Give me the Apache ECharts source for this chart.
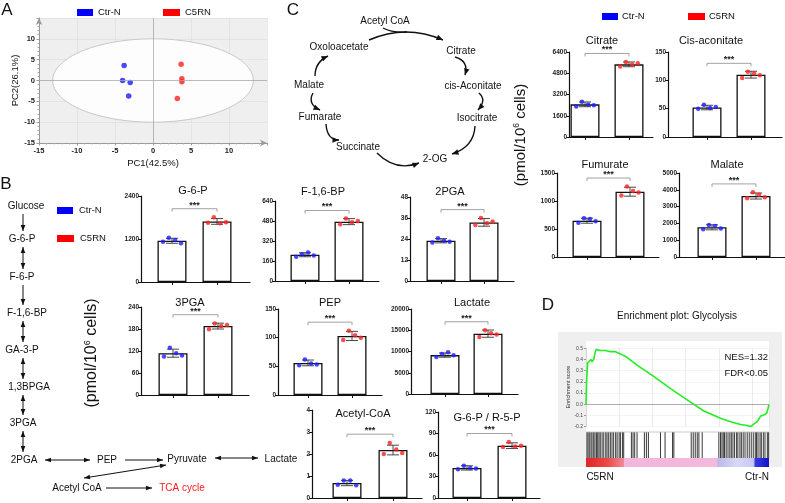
<!DOCTYPE html>
<html><head><meta charset="utf-8">
<script src="https://cdn.jsdelivr.net/npm/echarts@6/dist/echarts.min.js"></script>
<style>html,body{margin:0;padding:0;background:#fff}#c{width:785px;height:503px}</style>
</head><body><div id="c"></div>
<script>
// ================= DATA =================
const groups = ['Ctr-N', 'C5RN'];
// Panel A: PCA scores
const pcaCtrX = [-3.8, -4.0, -3.0, -3.2];
const pcaCtrY = [3.6, 0.0, -0.5, -3.7];
const pcaC5X = [3.7, 3.8, 3.8, 3.2];
const pcaC5Y = [3.9, 0.4, -0.3, -4.3];
const pcaEllipse = [13.2, 10];          // radii of confidence ellipse (PC1, PC2 units)
const pcaXLabel = 'PC1(42.5%)';
const pcaYLabel = 'PC2(26.1%)';

// Panels B & C: metabolite bar charts
const metNames   = ['G-6-P', 'F-1,6-BP', '2PGA', '3PGA', 'PEP', 'Lactate', 'Acetyl-CoA', 'G-6-P / R-5-P',
                    'Citrate', 'Cis-aconitate', 'Fumurate', 'Malate'];
const metAxisMax = [2400, 640, 48, 240, 150, 20000, 4, 120, 6400, 150, 1500, 5000];
const metAxisStep= [1200, 160, 12, 60, 50, 5000, 1, 30, 1600, 50, 500, 1000];
const ctrMean = [1150, 210, 23, 114, 56, 9150, 0.68, 42, 2460, 52, 648, 1768];
const ctrSD   = [70, 16, 1.2, 11, 5, 500, 0.12, 3, 180, 4, 45, 150];
const c5Mean  = [1690, 475, 33.5, 188, 103, 14200, 2.18, 73, 5470, 110, 1166, 3630];
const c5SD    = [80, 24, 2.2, 8, 8, 850, 0.22, 4, 180, 6, 80, 180];
const ctrDots = [[1120,1236,1172,1080],[195,215,228,205],[22,24.5,23,22.5],[105,129,114,108],
                 [52,62,55,53],[8700,9400,9800,9100],[0.6,0.8,0.8,0.58],[40,45,42,41],
                 [2300,2650,2450,2400],[50,57,51,53],[610,690,680,640],[1650,1900,1850,1700]];
const c5Dots  = [[1655,1805,1638,1664],[455,500,470,480],[32,36,33,34],[179,195,188,191],
                 [96,112,104,100],[13400,15000,14300,14000],[2.0,2.5,2.2,2.05],[71,78,72,73],
                 [5300,5650,5450,5550],[104,115,112,109],[1100,1260,1180,1150],[3500,3850,3700,3550]];

// Panel D: GSEA running enrichment score and hit ranks (percent of ranked list)
const esRank  = [0,0.36,0.91,1.64,2.74,3.28,4.2,5.1,5.66,7.85,10.6,13.3,16.1,18.8,22.4,27.9,37.0,46.2,55.3,64.4,
                 73.5,79.0,84.5,88.1,90.0,91.8,93.6,95.4,97.3,98.7,99.5,100];
const esScore = [0,0.22,0.37,0.38,0.40,0.38,0.40,0.47,0.49,0.48,0.48,0.47,0.47,0.45,0.42,0.35,0.25,0.14,0.04,-0.06,
                 -0.125,-0.155,-0.18,-0.19,-0.20,-0.175,-0.155,-0.105,-0.095,-0.08,-0.035,0.0];
const hitRank = [0.5,1.1,1.8,2.7,3.3,4.2,4.9,5.7,6.4,7.1,7.8,8.8,9.7,10.8,11.5,12.4,13.3,14.2,15.1,16.2,17.0,18.1,18.8,19.9,20.6,
                 24.8,25.7,26.6,27.9,31.9,33.0,34.1,40.7,43.2,47.3,48.0,57.5,58.6,59.7,60.8,61.7,63.5,
                 72.6,73.5,74.3,75.0,75.7,76.6,77.6,78.6,79.4,80.3,81.2,82.3,83.0,84.1,84.9,85.9,86.9,88.1,89.2,
                 90.3,91.4,92.5,93.2,94.0,95.1,95.8,96.9,97.8,99.1,99.8];
const gseaStats = ['NES=1.32', 'FDR<0.05'];

// ================= LAYOUT (pixels) =================
// [yAxisX, center1, center2, axisRightEnd, top, bottom]
const metLayout = [
  [141,172,217,250,196,282],[275,305,349,379,201,281],[410,441,484,514,197,281],
  [141,173,218,249,307,395],[278,308,352,382,309,395],[411,445,488,518,309,394],
  [312,347,393,422,410,498],[438,467,512,540,412,498],
  [569,585,629,653,52,137],[668,707,751,782,52,137],
  [557,587,630,659,173,257],[679,712,756,785,173,257]];
const metTitlePos = [[193,191],[323,192],[450,192],[190,303],[330,303],[472,303],[363,414],[487,418],
                     [602,41],[711,41],[605,165],[727,165]];

// ================= BUILD =================
const FONT = 'Liberation Sans, Arial, sans-serif';
const BLUE = '#1a1aff', RED = '#ff2020', INK = '#111';
const chart = echarts.init(document.getElementById('c'));
const grids = [], xAxes = [], yAxes = [], series = [], gfx = [];

function T(x, y, text, size, o) {
  o = o || {};
  return {type:'text', x:x, y:y, rotation:o.rot || 0, z: 10,
    style:Object.assign({text:text, fontSize:size, fontFamily:FONT, fill:o.color || INK,
      fontWeight:o.weight || 'normal',
      align:o.align || 'center', textAlign:o.align || 'center',
      verticalAlign:'middle', textVerticalAlign:'middle'}, o.style || {})};
}
function head(x2, y2, dx, dy, L, W) {
  const d = Math.hypot(dx, dy) || 1, ux = dx / d, uy = dy / d;
  const bx = x2 - ux * L, by = y2 - uy * L;
  return {type:'polygon', z:10, shape:{points:[[x2,y2],[bx - uy*W, by + ux*W],[bx + uy*W, by - ux*W]]},
          style:{fill:'#111'}};
}
function arrow(p, h1, h2, lw, L, W) {
  L = L || 6; W = W || 2.3; lw = lw || 1;
  const els = [];
  if (p.length === 4) {
    els.push({type:'line', z:10, shape:{x1:p[0],y1:p[1],x2:p[2],y2:p[3]}, style:{stroke:'#111', lineWidth:lw}});
    if (h2) els.push(head(p[2],p[3],p[2]-p[0],p[3]-p[1],L,W));
    if (h1) els.push(head(p[0],p[1],p[0]-p[2],p[1]-p[3],L,W));
  } else {
    els.push({type:'bezierCurve', z:10, shape:{x1:p[0],y1:p[1],cpx1:p[2],cpy1:p[3],x2:p[4],y2:p[5]},
              style:{stroke:'#111', lineWidth:lw, fill:null}});
    if (h2) els.push(head(p[4],p[5],p[4]-p[2],p[5]-p[3],L,W));
    if (h1) els.push(head(p[0],p[1],p[0]-p[2],p[1]-p[3],L,W));
  }
  return els;
}
function legend(x1, y1, x2, y2, textOff) {
  return [
    {type:'rect', z:10, shape:{x:x1, y:y1-3.5, width:16, height:7}, style:{fill:'#0000ff'}},
    T(x1 + textOff, y1, groups[0], 9.5, {align:'left'}),
    {type:'rect', z:10, shape:{x:x2, y:y2-3.5, width:17, height:7}, style:{fill:'#ff0000'}},
    T(x2 + textOff + 1, y2, groups[1], 9.5, {align:'left'})
  ];
}
const plain = v => String(v);

// ---------- Panel A: PCA ----------
grids.push({left:39, top:18, width:228, height:125, show:true, backgroundColor:'#efefef', borderWidth:0,
            outerBoundsMode:'none', containLabel:false});
const pcaAxisCommon = {type:'value', min:-15, max:15, interval:5,
  nameLocation:'middle', nameTextStyle:{fontSize:9.5, fontFamily:FONT, color:INK},
  axisLine:{show:true, onZero:false, lineStyle:{color:'#999', width:1}, symbol:['none','arrow'], symbolSize:[5,7]},
  axisTick:{show:true, length:2.5, lineStyle:{color:'#999'}},
  minorTick:{show:true, splitNumber:5, length:1.5, lineStyle:{color:'#aaa'}},
  axisLabel:{showMaxLabel:false, fontSize:7.5, fontWeight:'bold', color:'#222', fontFamily:FONT, margin:4, formatter:plain},
  splitLine:{show:true, lineStyle:{color:'#dcdcdc', width:0.6}}};
xAxes.push(Object.assign({gridIndex:0, name:pcaXLabel, nameGap:15}, pcaAxisCommon));
yAxes.push(Object.assign({gridIndex:0, name:pcaYLabel, nameGap:14}, pcaAxisCommon));
series.push({type:'custom', xAxisIndex:0, yAxisIndex:0, z:1, silent:true,
  data:[[0, 0, pcaEllipse[0], pcaEllipse[1]]], encode:{x:0, y:1},
  renderItem:function(p, api){
    const c = api.coord([api.value(0), api.value(1)]);
    const e = api.coord([api.value(0) + api.value(2), api.value(1) + api.value(3)]);
    return {type:'ellipse', shape:{cx:c[0], cy:c[1], rx:Math.abs(e[0]-c[0]), ry:Math.abs(e[1]-c[1])},
            style:{fill:'#fdfdfd', stroke:'#c8c8c8', lineWidth:1}};
  }});
series.push({type:'scatter', xAxisIndex:0, yAxisIndex:0, z:3, symbolSize:5.5, itemStyle:{color:BLUE},
  data:pcaCtrX.map((v,k)=>[v, pcaCtrY[k]]),
  markLine:{silent:true, symbol:['none','none'], label:{show:false}, animation:false,
    lineStyle:{color:'#aaa', width:0.8, type:'solid'}, data:[{xAxis:0},{yAxis:0}]}});
series.push({type:'scatter', xAxisIndex:0, yAxisIndex:0, z:3, symbolSize:5.5, itemStyle:{color:RED},
  data:pcaC5X.map((v,k)=>[v, pcaC5Y[k]])});

// ---------- Bar charts (B, C) ----------
const jit = [-0.2, -0.07, 0.07, 0.2];
function errItem(p, api) {
  const x = api.value(0), m = api.value(1), sd = api.value(2);
  const t = api.coord([x, m + sd]), b = api.coord([x, m - sd]);
  const c = 6, st = {stroke:'#333', lineWidth:0.9};
  return {type:'group', children:[
    {type:'line', shape:{x1:t[0], y1:t[1], x2:b[0], y2:b[1]}, style:st},
    {type:'line', shape:{x1:t[0]-c, y1:t[1], x2:t[0]+c, y2:t[1]}, style:st},
    {type:'line', shape:{x1:b[0]-c, y1:b[1], x2:b[0]+c, y2:b[1]}, style:st}]};
}
function brItem(p, api) {
  const a = api.coord([api.value(0), api.value(2)]), b = api.coord([api.value(1), api.value(2)]);
  return {type:'group', children:[
    {type:'polyline', shape:{points:[[a[0], a[1]+3],[a[0], a[1]],[b[0], b[1]],[b[0], b[1]+3]]},
     style:{stroke:'#8a8a8a', lineWidth:0.8, fill:null}},
    {type:'text', x:(a[0]+b[0])/2, y:a[1]+1,
     style:{text:'***', fontSize:9, fontWeight:'bold', fontFamily:FONT, fill:'#222',
            align:'center', textAlign:'center', verticalAlign:'bottom', textVerticalAlign:'bottom'}}]};
}
metNames.forEach(function(nm, i){
  const L = metLayout[i], gi = grids.length, sp = L[2] - L[1];
  grids.push({left:L[0], top:L[4], width:L[3]-L[0], height:L[5]-L[4], outerBoundsMode:'none', containLabel:false});
  xAxes.push({gridIndex:gi, type:'value', min:1-(L[1]-L[0])/sp, max:2+(L[3]-L[2])/sp,
    axisLine:{show:true, onZero:false, lineStyle:{color:INK, width:1.2}},
    axisTick:{show:true, customValues:[1,2], length:3, lineStyle:{color:INK, width:1}},
    axisLabel:{show:false}, splitLine:{show:false}});
  yAxes.push({gridIndex:gi, type:'value', min:0, max:metAxisMax[i], interval:metAxisStep[i],
    axisLine:{show:true, onZero:false, lineStyle:{color:INK, width:1.2}},
    axisTick:{show:true, length:3, lineStyle:{color:INK, width:1}},
    axisLabel:{fontSize:6.5, fontWeight:'bold', color:'#222', fontFamily:FONT, margin:2, formatter:plain},
    splitLine:{show:false}});
  series.push({type:'bar', xAxisIndex:gi, yAxisIndex:gi, barWidth:29, z:2, silent:true,
    itemStyle:{color:'#fff', borderColor:INK, borderWidth:1.3},
    data:[[1, ctrMean[i]], [2, c5Mean[i]]]});
  series.push({type:'custom', xAxisIndex:gi, yAxisIndex:gi, z:3, silent:true, renderItem:errItem,
    encode:{x:0, y:1}, data:[[1, ctrMean[i], ctrSD[i]], [2, c5Mean[i], c5SD[i]]]});
  series.push({type:'scatter', xAxisIndex:gi, yAxisIndex:gi, z:4, symbolSize:4.5, itemStyle:{color:BLUE},
    data:ctrDots[i].map((v,k)=>[1 + jit[k], v])});
  series.push({type:'scatter', xAxisIndex:gi, yAxisIndex:gi, z:4, symbolSize:4.5, itemStyle:{color:RED},
    data:c5Dots[i].map((v,k)=>[2 + jit[k], v])});
  const by = Math.max.apply(null, c5Dots[i]) + 0.1 * metAxisMax[i];
  series.push({type:'custom', xAxisIndex:gi, yAxisIndex:gi, z:4, silent:true, renderItem:brItem,
    encode:{x:[0,1], y:2}, data:[[1, 2, by]]});
  gfx.push(T(metTitlePos[i][0], metTitlePos[i][1], nm, 11));
});

// ---------- Panel D: GSEA ----------
gfx.push({type:'rect', z:-5, shape:{x:558, y:332, width:224, height:135}, style:{fill:'#efefef'}});
gfx.push({type:'rect', z:-4, shape:{x:586, y:341, width:183, height:117}, style:{fill:'#ffffff'}});
gfx.push({type:'line', z:5, shape:{x1:586, y1:432, x2:769, y2:432}, style:{stroke:'#bbb', lineWidth:0.8}});
gfx.push({type:'rect', z:5, shape:{x:586, y:458, width:183, height:9},
  style:{fill:new echarts.graphic.LinearGradient(0,0,1,0,[
    {offset:0, color:'#e02424'},{offset:0.12, color:'#ec4a4a'},{offset:0.205, color:'#f08a96'},
    {offset:0.21, color:'#f4b6dc'},{offset:0.715, color:'#f4b8dc'},{offset:0.72, color:'#b8b8ee'},
    {offset:0.82, color:'#d8d8f6'},{offset:0.915, color:'#c8c8f4'},{offset:0.925, color:'#3a3ae0'},
    {offset:1, color:'#1010c8'}])}});
const esG = grids.length;
grids.push({left:586, top:348.3, width:183, height:78.4, outerBoundsMode:'none', containLabel:false});
xAxes.push({gridIndex:esG, type:'value', min:0, max:100, interval:18.15,
  axisLine:{show:false}, axisTick:{show:false}, axisLabel:{show:false},
  splitLine:{show:true, lineStyle:{color:'#e2e2e2', width:0.7}}});
yAxes.push({gridIndex:esG, type:'value', min:-0.2, max:0.5, interval:0.1,
  axisLine:{show:true, onZero:false, lineStyle:{color:'#ccc', width:0.7}},
  axisTick:{show:true, length:2, lineStyle:{color:'#999'}},
  axisLabel:{fontSize:5, color:'#444', fontFamily:FONT, margin:3, formatter:v=>v.toFixed(1)},
  splitLine:{show:true, lineStyle:{color:'#ececec', width:0.6}}});
series.push({type:'line', xAxisIndex:esG, yAxisIndex:esG, z:4, showSymbol:false, silent:true,
  lineStyle:{color:'#22ee22', width:1.6}, data:esRank.map((v,k)=>[v, esScore[k]]),
  markLine:{silent:true, symbol:['none','none'], label:{show:false}, animation:false,
    lineStyle:{color:'#9a9a9a', width:0.8, type:'solid'}, data:[{yAxis:0}]}});
const hitG = grids.length;
grids.push({left:586, top:432, width:183, height:26, outerBoundsMode:'none', containLabel:false});
xAxes.push({gridIndex:hitG, type:'value', min:0, max:100, show:false});
yAxes.push({gridIndex:hitG, type:'value', min:0, max:1, show:false});
series.push({type:'scatter', xAxisIndex:hitG, yAxisIndex:hitG, z:4, silent:true, symbol:'rect',
  symbolSize:[1, 26], itemStyle:{color:'#151515', opacity:0.85}, data:hitRank.map(v=>[v, 0.5])});

// ---------- Text, legends, diagrams ----------
gfx.push(T(7, 10, 'A', 17), T(6, 184, 'B', 17), T(293, 10, 'C', 17), T(548, 305, 'D', 17));
gfx.push.apply(gfx, legend(77, 12.5, 163, 12.5, 21));
gfx.push.apply(gfx, legend(57, 210.5, 57, 238.5, 22));
gfx.push.apply(gfx, legend(602, 16.5, 688, 16.5, 20));
const pmol = '(pmol/10{s|6} cells)';
gfx.push(T(92, 353, '', 16, {rot:Math.PI/2, style:{text:pmol, rich:{s:{fontSize:9, fontFamily:FONT, fill:INK, padding:[0,0,8,0]}}}}));
gfx.push(T(521, 135, '', 15, {rot:Math.PI/2, style:{text:pmol, rich:{s:{fontSize:8.5, fontFamily:FONT, fill:INK, padding:[0,0,8,0]}}}}));

// Glycolysis pathway
const pw = [['Glucose',26,206],['G-6-P',22,239],['F-6-P',22,277],['F-1,6-BP',27,313],['GA-3-P',22,350],
            ['1,3BPGA',29,387],['3PGA',23,423],['2PGA',24,460],['PEP',107,460],['Pyruvate',187,459],
            ['Lactate',281,459],['Acetyl CoA',77,488]];
pw.forEach(p=>gfx.push(T(p[1], p[2], p[0], 10)));
gfx.push(T(182, 488, 'TCA cycle', 10, {color:'#ff1a1a'}));
const vArrows = [[206,239,0],[239,277,1],[277,313,0],[313,350,1],[350,387,1],[387,423,1],[423,460,1]];
vArrows.forEach(a=>gfx.push.apply(gfx, arrow([23, a[0]+8, 23, a[1]-8], a[2], 1)));
gfx.push.apply(gfx, arrow([45,460,90,460], 1, 1));
gfx.push.apply(gfx, arrow([125,460,163,460], 0, 1));
gfx.push.apply(gfx, arrow([215,458,258,458], 1, 1));
gfx.push.apply(gfx, arrow([84,478,166,465], 1, 1));
gfx.push.apply(gfx, arrow([106,488,152,488], 0, 1));

// TCA cycle
const tca = [['Acetyl CoA',385,21],['Oxoloacetate',339,47],['Citrate',461,51],['Malate',309,85],
             ['cis-Aconitate',473,86],['Fumarate',320,117],['Isocitrate',477,118],['Succinate',358,147],['2-OG',435,159]];
tca.forEach(p=>gfx.push(T(p[1], p[2], p[0], 10)));
const tcaArcs = [
  [[369,40,406,24,443,40],0,1],[[383,28,392,33,407,32],0,0],[[455,57,469,61,465,75],0,1],
  [[479,93,487,100,478,110],0,1],[[475,126,474,147,452,154],0,1],[[377,153,396,172,419,163],0,1],
  [[326,124,327,140,339,140],0,1],[[313,93,307,104,320,110],0,1],[[315,76,315,62,328,56],0,1]];
tcaArcs.forEach(a=>gfx.push.apply(gfx, arrow(a[0], a[1], a[2], 1.4, 6.5, 2.8)));

// GSEA text
gfx.push(T(677, 316, 'Enrichment plot: Glycolysis', 10));
gfx.push(T(768, 357, gseaStats[0], 9.5, {align:'right'}));
gfx.push(T(768, 373, gseaStats[1], 9.5, {align:'right'}));
gfx.push(T(568, 387, 'Enrichment score', 5.5, {rot:Math.PI/2, color:'#333'}));
gfx.push(T(600, 477, 'C5RN', 10), T(757, 477, 'Ctr-N', 10));

chart.setOption({
  animation:false,
  backgroundColor:'#ffffff',
  textStyle:{fontFamily:FONT},
  grid:grids, xAxis:xAxes, yAxis:yAxes, series:series,
  graphic:{elements:gfx}
});
</script></body></html>
